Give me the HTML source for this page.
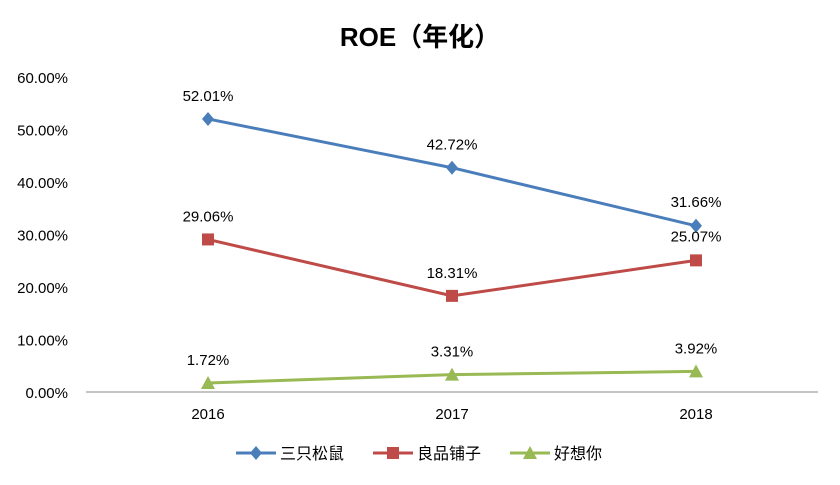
<!DOCTYPE html>
<html><head><meta charset="utf-8"><style>
body{margin:0;background:#fff}
svg text{font-family:"Liberation Sans","Noto Sans CJK SC",sans-serif;fill:#000}
</style></head><body>
<svg width="840" height="480" id="chart">
<text x="420" y="46" text-anchor="middle" font-size="26" font-weight="bold">ROE（年化）</text>
<g id="yaxis"></g>
<g id="xaxis"></g>
<g id="series"></g>
<g id="legend"></g>
</svg>
<script>
const categories=["2016","2017","2018"];
const seriesNames=["三只松鼠","良品铺子","好想你"];
const squirrel=[52.01,42.72,31.66];
const bestore=[29.06,18.31,25.07];
const haoxiangni=[1.72,3.31,3.92];
const yTicks=[0,10,20,30,40,50,60];
const colors=["#4A7EBB","#BE4B48","#98B954"];
const markers=["diamond","square","triangle"];
const NS="http://www.w3.org/2000/svg";
const y0=392,pxPer=5.25,x0=86,x1=818;
const yS=v=>y0-v*pxPer;
const xS=i=>x0+(x1-x0)/categories.length*(i+0.5);
function mk(t,a,p){const e=document.createElementNS(NS,t);for(const k in a)e.setAttribute(k,a[k]);p.appendChild(e);return e;}
const ya=document.getElementById('yaxis');
yTicks.forEach(v=>{const t=mk('text',{x:68,y:yS(v)+6,'text-anchor':'end','font-size':15},ya);t.textContent=v.toFixed(2)+'%';

});
const xa=document.getElementById('xaxis');
const al=mk('line',{x1:x0,x2:x1,y1:y0,y2:y0,stroke:'#888','stroke-width':1},xa);


categories.forEach((c,i)=>{const t=mk('text',{x:xS(i),y:419,'text-anchor':'middle','font-size':15},xa);t.textContent=c;

});
function marker(type,x,y,color,p){
 if(type==='diamond')return mk('polygon',{points:`${x},${y-7} ${x+6},${y} ${x},${y+7} ${x-6},${y}`,fill:color},p);
 if(type==='square')return mk('rect',{x:x-6,y:y-6,width:12,height:12,fill:color},p);
 return mk('polygon',{points:`${x},${y-7} ${x+7},${y+6} ${x-7},${y+6}`,fill:color},p);
}
const sg=document.getElementById('series');
const labOff=[[-24,-24,-24],[-24,-24,-24],[-24,-24,-24]];
[squirrel,bestore,haoxiangni].forEach((d,s)=>{
 const g=mk('g',{},sg);
 
 
 const pl=mk('polyline',{points:d.map((v,i)=>xS(i)+','+yS(v)).join(' '),fill:'none',stroke:colors[s],'stroke-width':3},g);
 
 
 d.forEach((v,i)=>{const m=marker(markers[s],xS(i),yS(v),colors[s],g);
 
 
 let dy=-18;
 if(s===1&&i===2)dy=-19;
 if(s===0&&i===2)dy=-19;
 const t=mk('text',{x:xS(i),y:yS(v)+dy,'text-anchor':'middle','font-size':15},g);t.textContent=v.toFixed(2)+'%';
 
 });
});
const lg=document.getElementById('legend');
const lx=[236,373,510];
seriesNames.forEach((n,s)=>{
 const g=mk('g',{},lg);
 
 
 mk('line',{x1:lx[s],x2:lx[s]+40,y1:453,y2:453,stroke:colors[s],'stroke-width':3},g);
 marker(markers[s],lx[s]+20,453,colors[s],g);
 const t=mk('text',{x:lx[s]+44,y:459,'font-size':16},g);t.textContent=n;
});
</script>
</body></html>
